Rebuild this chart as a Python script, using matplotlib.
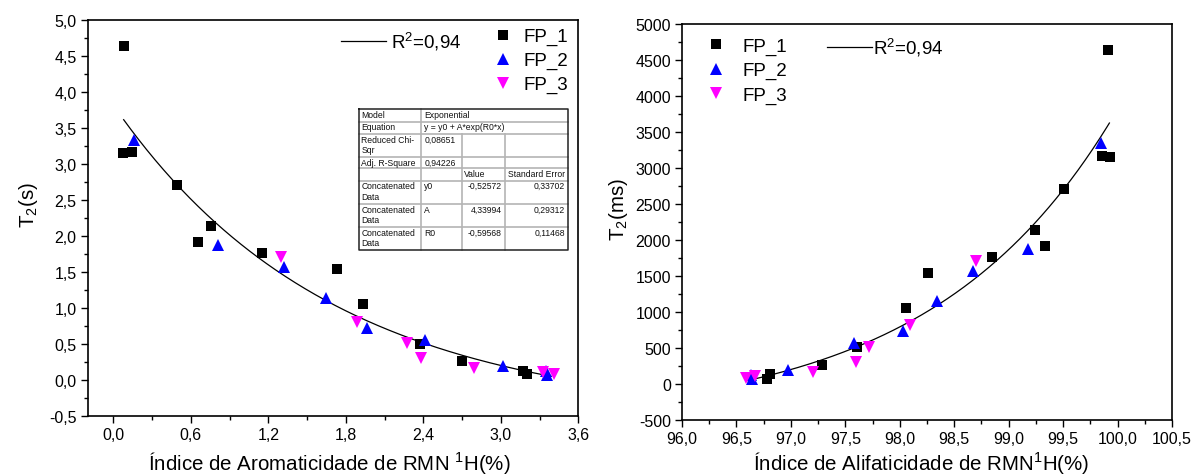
import numpy as np
import matplotlib
matplotlib.use("Agg")
import matplotlib.pyplot as plt
from matplotlib.lines import Line2D
from matplotlib.ticker import MultipleLocator, FuncFormatter

# ---------------- data ----------------
# Left panel: aromaticity index (%) vs T2 (s)
arom_fp1 = [0.085, 0.072, 0.141, 0.49, 0.653, 0.753, 1.151, 1.732, 1.93, 2.378, 2.70, 3.17, 3.20]
t2s_fp1 = [4.64, 3.15, 3.16, 2.71, 1.92, 2.13, 1.76, 1.54, 1.05, 0.50, 0.26, 0.13, 0.08]
arom_fp2 = [0.157, 0.812, 1.321, 1.647, 1.963, 2.413, 3.015, 3.35, 3.36]
t2s_fp2 = [3.33, 1.87, 1.57, 1.14, 0.72, 0.56, 0.19, 0.12, 0.07]
arom_fp3 = [1.298, 1.89, 2.27, 2.385, 2.79, 3.33, 3.41]
t2s_fp3 = [1.70, 0.81, 0.51, 0.30, 0.16, 0.11, 0.08]

# Right panel: aliphaticity index (%) vs T2 (ms)
alif_fp1 = [99.915, 99.93, 99.855, 99.51, 99.33, 99.24, 98.85, 98.26, 98.06, 97.61, 97.29, 96.81, 96.78]
t2ms_fp1 = [4640, 3150, 3165, 2710, 1920, 2135, 1770, 1545, 1060, 510, 260, 140, 75]
alif_fp2 = [99.845, 99.18, 98.675, 98.345, 98.025, 97.575, 96.975, 96.635, 96.645]
t2ms_fp2 = [3350, 1880, 1575, 1150, 730, 570, 200, 125, 75]
alif_fp3 = [98.70, 98.09, 97.72, 97.60, 97.20, 96.67, 96.59]
t2ms_fp3 = [1710, 815, 515, 310, 170, 110, 80]

# exponential fit parameters (from the fit table)
FIT_Y0, FIT_A, FIT_R0 = -0.52572, 4.33994, -0.59568
fit_arom_range = (0.08, 3.39)
fit_alif_range = (96.6, 99.925)

series_labels = ["FP_1", "FP_2", "FP_3"]
r2_label = "R$^{2}$=0,94"

table_rows = [
    ["Model", "Exponential"],
    ["Equation", "y = y0 + A*exp(R0*x)"],
    ["Reduced Chi-\nSqr", "0,08651", "", ""],
    ["Adj. R-Square", "0,94226", "", ""],
    ["", "", "Value", "Standard Error"],
    ["Concatenated\nData", "y0", "-0,52572", "0,33702"],
    ["Concatenated\nData", "A", "4,33994", "0,29312"],
    ["Concatenated\nData", "R0", "-0,59568", "0,11468"],
]

# ---------------- style ----------------
plt.rcParams["font.family"] = ["Liberation Sans", "DejaVu Sans"]
plt.rcParams["mathtext.fontset"] = "custom"
plt.rcParams["mathtext.rm"] = "Liberation Sans"
plt.rcParams["mathtext.it"] = "Liberation Sans:italic"
plt.rcParams["mathtext.bf"] = "Liberation Sans:bold"
plt.rcParams["axes.unicode_minus"] = False

W, H = 1193, 477
fig = plt.figure(figsize=(W / 100, H / 100), dpi=100)


def fx(px):
    return px / W


def fy(py):
    return 1 - py / H


def make_axes(x0, x1, ytop, ybot):
    return fig.add_axes([fx(x0), fy(ybot), fx(x1) - fx(x0), fy(ytop) - fy(ybot)])


def style_axes(ax):
    for s in ax.spines.values():
        s.set_linewidth(1.2)
    ax.tick_params(which="major", direction="out", length=5, width=1.0,
                   labelsize=11.5, pad=3, top=False, right=False)
    ax.tick_params(which="minor", direction="out", length=3, width=1.0,
                   top=False, right=False)


comma1 = FuncFormatter(lambda v, p: f"{v:.1f}".replace(".", ","))
intfmt = FuncFormatter(lambda v, p: f"{v:.0f}")

MS_SQ, MS_TRI = 6.8, 8.8
LEGEND_FS = 13.5

# ---------------- left panel ----------------
axL = make_axes(87.5, 578.3, 20.7, 417)
h1, = axL.plot(arom_fp1, t2s_fp1, "s", color="black", ms=MS_SQ, mew=0, zorder=3)
h2, = axL.plot(arom_fp2, t2s_fp2, "^", color="blue", ms=MS_TRI, mew=0, zorder=3)
h3, = axL.plot(arom_fp3, t2s_fp3, "v", color="#ff00ff", ms=MS_TRI, mew=0, zorder=3)
xf = np.linspace(*fit_arom_range, 300)
hf, = axL.plot(xf, FIT_Y0 + FIT_A * np.exp(FIT_R0 * xf), "-", color="black", lw=0.9, zorder=2)
axL.set_xlim(-0.2, 3.6)
axL.set_ylim(-0.5, 5.0)
axL.xaxis.set_major_locator(MultipleLocator(0.6))
axL.xaxis.set_minor_locator(MultipleLocator(0.3))
axL.yaxis.set_major_locator(MultipleLocator(0.5))
axL.yaxis.set_minor_locator(MultipleLocator(0.25))
axL.xaxis.set_major_formatter(comma1)
axL.yaxis.set_major_formatter(comma1)
style_axes(axL)

legL = axL.legend([h1, h2, h3], series_labels, loc="upper left",
                  bbox_to_anchor=(fx(493.5), fy(29)), bbox_transform=fig.transFigure,
                  frameon=False, borderpad=0, borderaxespad=0, handlelength=1.0,
                  handletextpad=0.6, labelspacing=0.36, fontsize=LEGEND_FS)
axL.add_artist(legL)
axL.legend([hf], [r2_label], loc="upper left",
           bbox_to_anchor=(fx(340.7), fy(31)), bbox_transform=fig.transFigure,
           frameon=False, borderpad=0, borderaxespad=0, handlelength=2.4,
           handletextpad=0.3, fontsize=LEGEND_FS)

# fit table
xs = [358.7, 421.3, 461.7, 505, 568.3]
ys = [110, 122.5, 135, 158.3, 169, 181.7, 205, 228.3, 251]
grid_c = "#b4b4b4"
for yy in ys[1:-1]:
    fig.add_artist(Line2D([fx(xs[0]), fx(xs[4])], [fy(yy), fy(yy)], color=grid_c, lw=1.2))
for xx in xs[2:4]:
    fig.add_artist(Line2D([fx(xx), fx(xx)], [fy(ys[2]), fy(ys[8])], color=grid_c, lw=1.2))
fig.add_artist(Line2D([fx(xs[1]), fx(xs[1])], [fy(ys[0]), fy(ys[8])], color=grid_c, lw=1.2))
fig.add_artist(Line2D([fx(xs[0]), fx(xs[4]), fx(xs[4]), fx(xs[0]), fx(xs[0])],
                      [fy(ys[0]), fy(ys[0]), fy(ys[8]), fy(ys[8]), fy(ys[0])],
                      color="#222222", lw=1.1))
TFS = 6.2
for r, row in enumerate(table_rows):
    top = ys[r] + 0.6
    for c, txt in enumerate(row):
        if not txt:
            continue
        numeric = r >= 5 and c >= 2
        if numeric:
            xpos, ha = xs[c + 1] - 3.5, "right"
        else:
            xpos, ha = xs[c] + (3.5 if c == 1 and r in (2, 3) else 2.5), "left"
        fig.text(fx(xpos), fy(top), txt, ha=ha, va="top", fontsize=TFS,
                 color="#111111", linespacing=1.2)

# ---------------- right panel ----------------
axR = make_axes(682, 1172, 25, 421)
g1, = axR.plot(alif_fp1, t2ms_fp1, "s", color="black", ms=MS_SQ, mew=0, zorder=3)
g2, = axR.plot(alif_fp2, t2ms_fp2, "^", color="blue", ms=MS_TRI, mew=0, zorder=3)
g3, = axR.plot(alif_fp3, t2ms_fp3, "v", color="#ff00ff", ms=MS_TRI, mew=0, zorder=3)
xr = np.linspace(*fit_alif_range, 300)
gf, = axR.plot(xr, 1000 * (FIT_Y0 + FIT_A * np.exp(FIT_R0 * (100 - xr))), "-",
               color="black", lw=0.9, zorder=2)
axR.set_xlim(96.0, 100.5)
axR.set_ylim(-500, 5000)
axR.xaxis.set_major_locator(MultipleLocator(0.5))
axR.xaxis.set_minor_locator(MultipleLocator(0.25))
axR.yaxis.set_major_locator(MultipleLocator(500))
axR.yaxis.set_minor_locator(MultipleLocator(250))
axR.xaxis.set_major_formatter(comma1)
axR.yaxis.set_major_formatter(intfmt)
style_axes(axR)

legR = axR.legend([g1, g2, g3], series_labels, loc="upper left",
                  bbox_to_anchor=(fx(707), fy(38.5)), bbox_transform=fig.transFigure,
                  frameon=False, borderpad=0, borderaxespad=0, handlelength=1.0,
                  handletextpad=0.92, labelspacing=0.38, fontsize=LEGEND_FS)
axR.add_artist(legR)
axR.legend([gf], [r2_label], loc="upper left",
           bbox_to_anchor=(fx(826.7), fy(37)), bbox_transform=fig.transFigure,
           frameon=False, borderpad=0, borderaxespad=0, handlelength=2.4,
           handletextpad=0.05, fontsize=LEGEND_FS)

# ---------------- axis labels ----------------
LAB_FS = 14.8
fig.text(fx(329), fy(463), "Índice de Aromaticidade de RMN $^{1}$H(%)",
         ha="center", va="center", fontsize=LAB_FS)
fig.text(fx(921), fy(463), "Índice de Alifaticidade de RMN$^{1}$H(%)",
         ha="center", va="center", fontsize=LAB_FS)
fig.text(fx(29), fy(205), "T$_{2}$(s)", ha="center", va="center", rotation=90,
         fontsize=LAB_FS)
fig.text(fx(618), fy(210), "T$_{2}$(ms)", ha="center", va="center", rotation=90,
         fontsize=LAB_FS)

fig.savefig("out.png", dpi=100)
